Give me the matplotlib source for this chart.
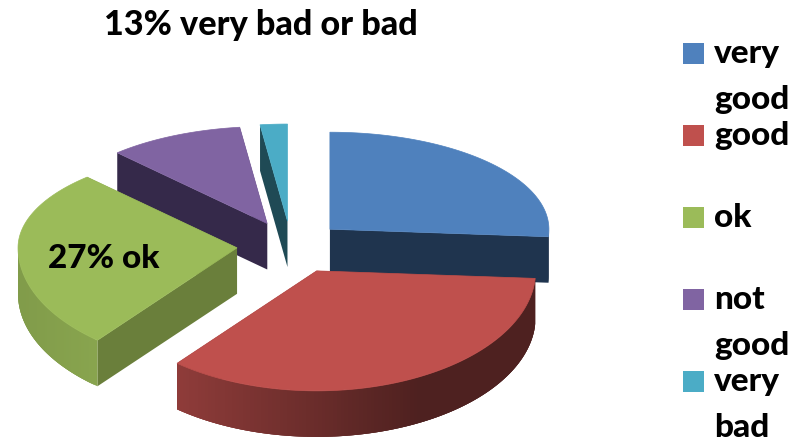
import numpy as np
import matplotlib
matplotlib.use("Agg")
import matplotlib.pyplot as plt
from matplotlib.patches import Polygon, Rectangle
from matplotlib.colors import to_rgb

labels = ["very\ngood", "good", "ok", "not\ngood", "very\nbad"]
values = [26, 35, 27, 10, 2]
colors = ["#4f81bd", "#bf504d", "#9bbb59", "#8064a2", "#4bacc6"]
face_colors = ["#1f344e", "#4e1f1d", "#6a7f3b", "#35294a", "#1f4a55"]

title = "13% very bad or bad"
note = "27% ok"

plt.rcParams["font.family"] = ["Lato", "DejaVu Sans"]
plt.rcParams["font.weight"] = 900

# pie geometry, in pixels of the 805x441 picture
cx, cy = 293, 247
rx, ry_back, ry_front = 219, 97, 120
ex_right, ex_left, ey = 52, 56, 26
nudge_x = [-1, 3, 0, -2, -2]
depth = 46

fig = plt.figure(figsize=(8.05, 4.41), dpi=100)
ax = fig.add_axes([0, 0, 1, 1])
ax.set_xlim(0, 805)
ax.set_ylim(441, 0)
ax.axis("off")


def arc(x0, y0, a0, a1):
    t = np.radians(np.linspace(a0, a1, int(abs(a1 - a0)) + 2))
    ry = np.where(np.cos(t) > 0, ry_back, ry_front)
    return x0 + rx * np.sin(t), y0 - ry * np.cos(t)


# angles clockwise from 12 o'clock
edges = np.cumsum([0] + values) / sum(values) * 360

# back slices first
for i in [3, 4, 0, 2, 1]:
    a0, a1 = edges[i], edges[i + 1]
    mid = np.radians((a0 + a1) / 2)
    x0 = cx + (ex_right if np.sin(mid) > 0 else ex_left) * np.sin(mid) + nudge_x[i]
    y0 = cy - ey * np.cos(mid)
    xs, ys = arc(x0, y0, a0, a1)

    # flat cut faces
    for k in [0, -1]:
        pts = [(x0, y0), (xs[k], ys[k]), (xs[k], ys[k] + depth), (x0, y0 + depth)]
        ax.add_patch(Polygon(pts, fc=face_colors[i], ec="none"))

    # outer wall, shaded across x; each strip overlaps the next so no seams show
    base = np.array(to_rgb(colors[i]))
    for j in range(len(xs) - 1):
        if np.cos(np.radians(a0 + (a1 - a0) * j / (len(xs) - 1))) > 0.02:
            continue
        shade = np.interp(xs[j], [17, 100, 178, 420, 548], [0.83, 0.88, 0.75, 0.41, 0.41])
        k = min(j + 3, len(xs) - 1)
        pts = list(zip(xs[j:k + 1], ys[j:k + 1])) + list(zip(xs[j:k + 1][::-1], ys[j:k + 1][::-1] + depth))
        ax.add_patch(Polygon(pts, fc=base * shade, ec="none"))

    # top
    top = np.column_stack([np.r_[x0, xs], np.r_[y0, ys]])
    ax.add_patch(Polygon(top, fc=colors[i], ec=colors[i], lw=0.5))

ax.text(260.5, 25, title, fontsize=24.6, ha="center", va="center", color="black")
ax.text(104, 258, note, fontsize=24, ha="center", va="center", color="black")

# legend
for i, lab in enumerate(labels):
    top_y = 43 + i * 82
    ax.add_patch(Rectangle((683, top_y), 21, 21, fc=colors[i], ec="none"))
    for n, line in enumerate(lab.split("\n")):
        ax.text(714, top_y + 20 + n * 46, line, fontsize=24, ha="left", va="baseline", color="black")

plt.savefig("out.png", dpi=100)
